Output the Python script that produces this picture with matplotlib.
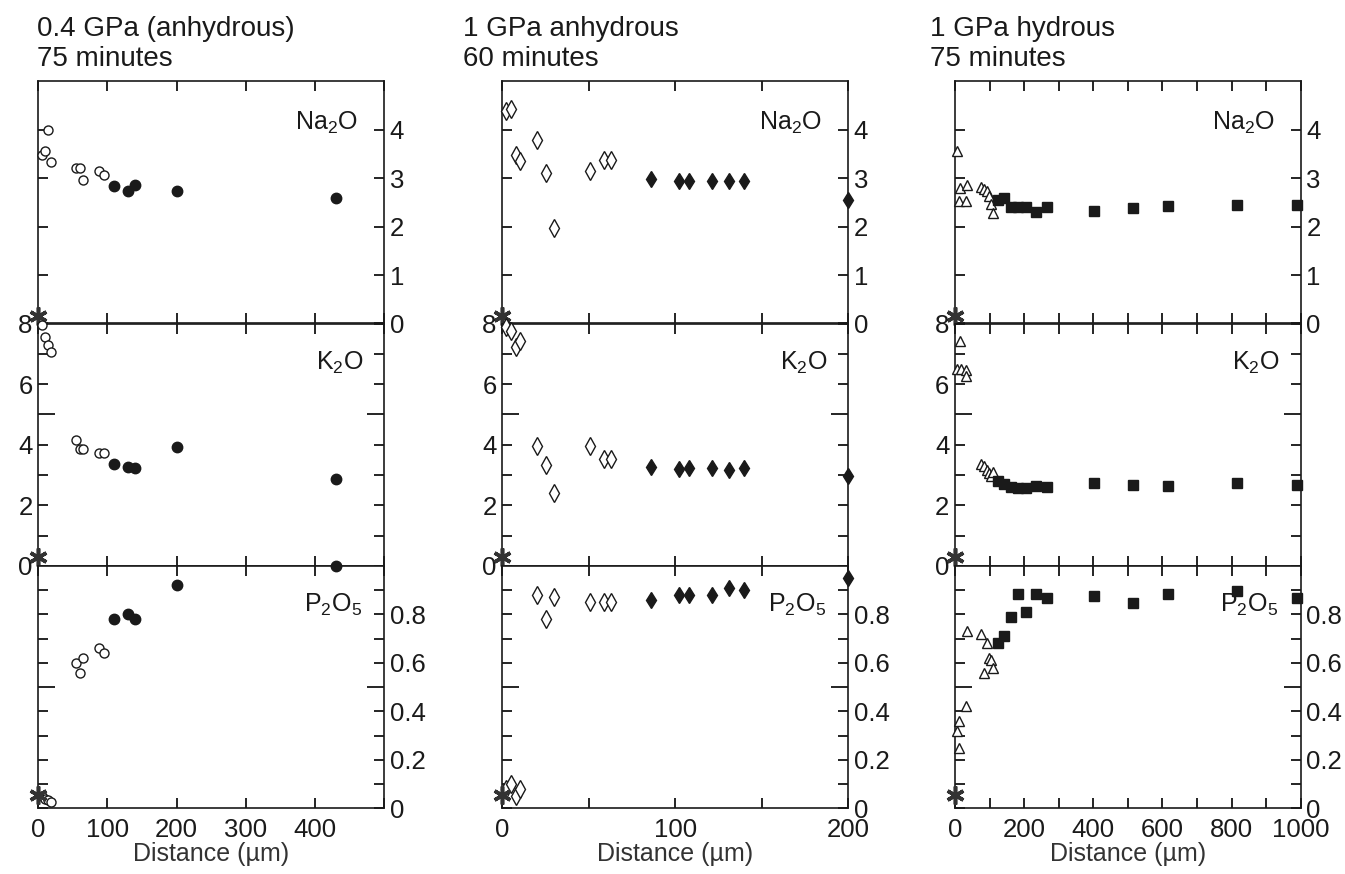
import numpy as np
import matplotlib.pyplot as plt
from matplotlib.ticker import FixedLocator

plt.rcParams['font.family'] = ['Liberation Sans', 'DejaVu Sans']
plt.rcParams['mathtext.default'] = 'regular'

INK = '#1a1a1a'

# ---- data: 0.4 GPa anhydrous, 75 min (circles) ----
c1_na_open_x = [5, 10, 14, 19, 55, 60, 65, 88, 95]
c1_na_open_y = [3.47, 3.55, 4.0, 3.33, 3.2, 3.2, 2.96, 3.14, 3.07]
c1_na_fill_x = [110, 129, 140, 200, 430]
c1_na_fill_y = [2.83, 2.74, 2.85, 2.74, 2.58]
c1_k_open_x = [5, 10, 14, 19, 55, 60, 65, 88, 95]
c1_k_open_y = [7.95, 7.57, 7.3, 7.05, 4.15, 3.85, 3.85, 3.72, 3.72]
c1_k_fill_x = [110, 129, 140, 200, 430]
c1_k_fill_y = [3.35, 3.26, 3.23, 3.93, 2.86]
c1_p_open_x = [5, 10, 14, 19, 55, 60, 65, 88, 95]
c1_p_open_y = [0.05, 0.04, 0.035, 0.025, 0.60, 0.56, 0.62, 0.66, 0.64]
c1_p_fill_x = [110, 129, 140, 200, 430]
c1_p_fill_y = [0.78, 0.80, 0.78, 0.92, 1.0]

# ---- data: 1 GPa anhydrous, 60 min (diamonds) ----
c2_na_open_x = [2, 5, 8, 10, 20, 25, 30, 51, 59, 63]
c2_na_open_y = [4.38, 4.43, 3.47, 3.36, 3.79, 3.1, 1.97, 3.15, 3.37, 3.37]
c2_na_fill_x = [86, 102, 108, 121, 131, 140, 200]
c2_na_fill_y = [2.99, 2.93, 2.93, 2.93, 2.93, 2.93, 2.55]
c2_k_open_x = [2, 5, 8, 10, 20, 25, 30, 51, 59, 63]
c2_k_open_y = [7.87, 7.76, 7.24, 7.43, 3.96, 3.33, 2.42, 3.96, 3.54, 3.54]
c2_k_fill_x = [86, 102, 108, 121, 131, 140, 200]
c2_k_fill_y = [3.28, 3.19, 3.23, 3.22, 3.17, 3.22, 2.97]
c2_p_open_x = [2, 5, 8, 10, 20, 25, 30, 51, 59, 63]
c2_p_open_y = [0.08, 0.10, 0.05, 0.08, 0.88, 0.78, 0.87, 0.85, 0.85, 0.85]
c2_p_fill_x = [86, 102, 108, 121, 131, 140, 200]
c2_p_fill_y = [0.86, 0.88, 0.88, 0.88, 0.91, 0.90, 0.95]

# ---- data: 1 GPa hydrous, 75 min (triangles / squares) ----
c3_na_open_x = [5, 15, 34, 12, 32, 75, 85, 92, 97, 103, 109]
c3_na_open_y = [3.55, 2.8, 2.85, 2.52, 2.53, 2.81, 2.78, 2.74, 2.64, 2.47, 2.27]
c3_fill_x = [123, 142, 161, 182, 204, 234, 266, 403, 515, 615, 816, 990]
c3_na_fill_y = [2.55, 2.59, 2.4, 2.41, 2.41, 2.31, 2.41, 2.33, 2.38, 2.43, 2.45, 2.45]
c3_k_open_x = [15, 7, 16, 32, 31, 75, 85, 92, 97, 103, 109]
c3_k_open_y = [7.42, 6.5, 6.5, 6.48, 6.27, 3.36, 3.30, 3.16, 3.06, 2.97, 3.11]
c3_k_fill_y = [2.81, 2.70, 2.61, 2.57, 2.56, 2.64, 2.59, 2.72, 2.66, 2.64, 2.73, 2.67]
c3_p_open_x = [34, 12, 5, 12, 32, 75, 92, 97, 103, 111, 85]
c3_p_open_y = [0.73, 0.36, 0.32, 0.25, 0.42, 0.72, 0.68, 0.62, 0.61, 0.58, 0.56]
c3_p_fill_y = [0.68, 0.71, 0.79, 0.885, 0.81, 0.885, 0.866, 0.876, 0.845, 0.885, 0.896, 0.866]

# starting-glass values marked with an asterisk at the interface
star_na, star_k, star_p = 0.15, 0.3, 0.055

titles = ['0.4 GPa (anhydrous)\n75 minutes', '1 GPa anhydrous\n60 minutes', '1 GPa hydrous\n75 minutes']
title_x = [37, 463, 930]
col_left = [38.3, 502.3, 955.0]
col_w = 345.8
xmax = [500, 200, 1000]
xmajor = [[0, 100, 200, 300, 400, 500], [0, 50, 100, 150, 200], list(range(0, 1001, 100))]
xlabels = [['0', '100', '200', '300', '400', ''], ['0', '', '100', '', '200'],
           ['0', '', '200', '', '400', '', '600', '', '800', '', '1000']]

columns = [
    dict(mk_open='o', mk_fill='o', ms_open=6.5, ms_fill=7.5,
         na=((c1_na_open_x, c1_na_open_y), (c1_na_fill_x, c1_na_fill_y)),
         k=((c1_k_open_x, c1_k_open_y), (c1_k_fill_x, c1_k_fill_y)),
         p=((c1_p_open_x, c1_p_open_y), (c1_p_fill_x, c1_p_fill_y))),
    dict(mk_open='d', mk_fill='d', ms_open=9, ms_fill=8.5,
         na=((c2_na_open_x, c2_na_open_y), (c2_na_fill_x, c2_na_fill_y)),
         k=((c2_k_open_x, c2_k_open_y), (c2_k_fill_x, c2_k_fill_y)),
         p=((c2_p_open_x, c2_p_open_y), (c2_p_fill_x, c2_p_fill_y))),
    dict(mk_open='^', mk_fill='s', ms_open=7, ms_fill=6.5,
         na=((c3_na_open_x, c3_na_open_y), (c3_fill_x, c3_na_fill_y)),
         k=((c3_k_open_x, c3_k_open_y), (c3_fill_x, c3_k_fill_y)),
         p=((c3_p_open_x, c3_p_open_y), (c3_fill_x, c3_p_fill_y))),
]

W, H = 1345, 874
fig = plt.figure(figsize=(W / 100, H / 100), dpi=100)

panel_h = 242.4
bottom_px = 808.3


def frac_rect(left_px, top_px, w_px, h_px):
    return [left_px / W, 1 - (top_px + h_px) / H, w_px / W, h_px / H]


def draw_points(ax, col, key, star):
    (ox, oy), (fx, fy) = col[key]
    ax.plot(ox, oy, ls='none', marker=col['mk_open'], ms=col['ms_open'], mfc='white',
            mec=INK, mew=1.0, clip_on=False, zorder=5)
    ax.plot(fx, fy, ls='none', marker=col['mk_fill'], ms=col['ms_fill'], mfc=INK,
            mec=INK, mew=1.0, clip_on=False, zorder=5)
    ax.plot([0], [star], ls='none', marker=(6, 2, 0), ms=13, mew=2.6, color='#333333',
            clip_on=False, zorder=6)


for i, col in enumerate(columns):
    tops = [bottom_px - 3 * panel_h, bottom_px - 2 * panel_h, bottom_px - panel_h]
    ax_na = fig.add_axes(frac_rect(col_left[i], tops[0], col_w, panel_h))
    ax_k = fig.add_axes(frac_rect(col_left[i], tops[1], col_w, panel_h))
    ax_p = fig.add_axes(frac_rect(col_left[i], tops[2], col_w, panel_h))

    for ax in (ax_na, ax_k, ax_p):
        ax.set_xlim(0, xmax[i])
        ax.set_xticks(xmajor[i])
        ax.set_xticklabels(xlabels[i])
        ax.tick_params(axis='x', which='both', direction='in', top=True, bottom=True,
                       length=7, width=1.2, labelsize=18.5, labelcolor=INK, pad=7)
        ax.tick_params(axis='y', which='major', direction='in', left=True, right=True,
                       length=7, width=1.2, labelsize=18.5, labelcolor=INK, pad=4)
        ax.tick_params(axis='y', which='minor', direction='in', left=True, right=True,
                       length=12, width=1.2)
        for s in ax.spines.values():
            s.set_linewidth(1.2)
            s.set_color(INK)
    for ax in (ax_na, ax_k):
        ax.tick_params(axis='x', labelbottom=False)

    # Na2O
    ax_na.set_ylim(0, 5)
    ax_na.set_yticks([0, 1, 2, 3, 4])
    ax_na.tick_params(axis='y', labelleft=False, labelright=True)
    draw_points(ax_na, col, 'na', star_na)
    ax_na.text(0.925, 0.80, 'Na$_2$O', transform=ax_na.transAxes, ha='right',
               va='baseline', fontsize=18, color=INK)

    # K2O
    ax_k.set_ylim(0, 8)
    ax_k.set_yticks([0, 1, 2, 3, 4, 6, 7, 8])
    ax_k.set_yticklabels(['0', '', '2', '', '4', '6', '', '8'])
    ax_k.yaxis.set_minor_locator(FixedLocator([5]))
    ax_k.tick_params(axis='y', labelleft=True, labelright=False)
    draw_points(ax_k, col, 'k', star_k)
    ax_k.text(0.94, 0.81, 'K$_2$O', transform=ax_k.transAxes, ha='right',
              va='baseline', fontsize=18, color=INK)

    # P2O5
    ax_p.set_ylim(0, 1.0)
    pt = [0, 0.1, 0.2, 0.3, 0.4, 0.6, 0.7, 0.8, 0.9]
    ax_p.set_yticks(pt)
    ax_p.set_yticklabels(['0', '', '0.2', '', '0.4', '0.6', '', '0.8', ''])
    ax_p.yaxis.set_minor_locator(FixedLocator([0.5]))
    ax_p.tick_params(axis='y', labelleft=False, labelright=True)
    draw_points(ax_p, col, 'p', star_p)
    ax_p.text(0.935, 0.81, 'P$_2$O$_5$', transform=ax_p.transAxes, ha='right',
              va='baseline', fontsize=18, color=INK)
    ax_p.set_xlabel('Distance (µm)', fontsize=18, color='#333333', labelpad=0)

    fig.text(title_x[i] / W, 1 - 16 / H, titles[i], ha='left', va='top',
             fontsize=20, color=INK, linespacing=1.2)

fig.savefig('out.png', dpi=100)
